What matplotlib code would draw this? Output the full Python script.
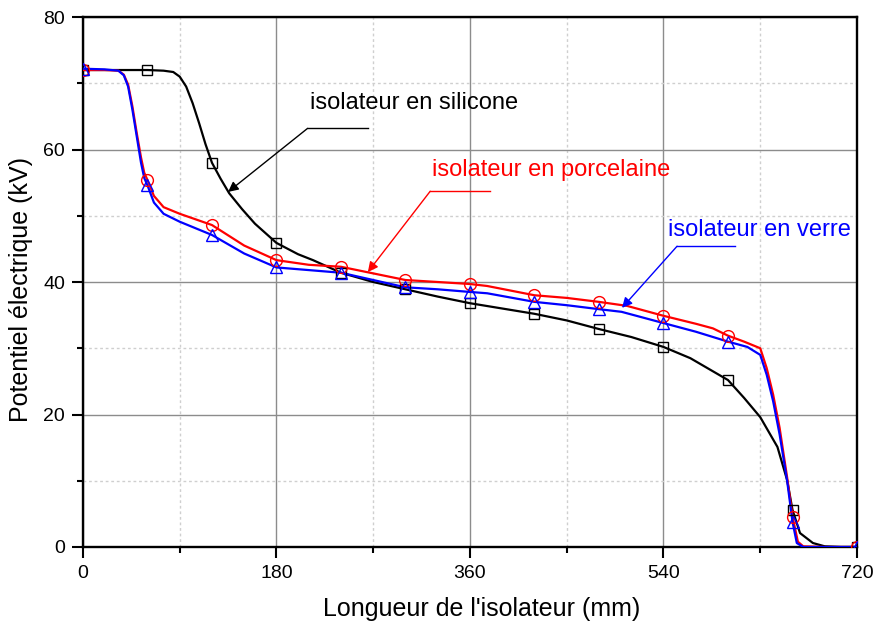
import numpy as np
import matplotlib
matplotlib.use('Agg')
import matplotlib.pyplot as plt

plt.rcParams['font.family'] = ['Liberation Sans', 'DejaVu Sans']

# valeurs aux marqueurs (tous les 60 mm)
x_mark = [0, 60, 120, 180, 240, 300, 360, 420, 480, 540, 600, 660, 720]
silicone = [72.0, 72.0, 58.0, 45.9, 41.4, 38.9, 36.8, 35.2, 32.9, 30.2, 25.2, 5.6, 0.0]
porcelaine = [72.0, 55.4, 48.6, 43.3, 42.3, 40.3, 39.7, 38.0, 37.0, 34.9, 31.9, 4.6, 0.0]
verre = [72.2, 54.6, 47.1, 42.2, 41.4, 39.2, 38.5, 37.0, 35.9, 33.8, 31.0, 3.8, 0.0]

# points intermediaires
sil_x = [20, 75, 84, 90, 96, 102, 108, 114, 128, 136, 148, 160, 200, 214, 270, 330,
         390, 450, 510, 565, 615, 630, 646, 655, 667, 679, 690, 705]
sil_y = [72.0, 71.9, 71.7, 71.0, 69.5, 67.0, 64.0, 60.8, 55.6, 53.4, 51.0, 48.8,
         44.2, 43.3, 40.0, 37.8, 36.0, 34.2, 31.7, 28.5, 22.5, 19.6, 15.1, 10.1,
         2.1, 0.6, 0.1, 0.0]
por_x = [20, 33, 38, 42, 46, 50, 54, 57, 66, 75, 90, 150, 210, 270, 330, 376, 450,
         506, 570, 586, 615, 630, 636, 642, 648, 655, 665, 670, 690]
por_y = [72.0, 71.9, 71.3, 69.8, 66.5, 62.5, 58.8, 56.5, 53.0, 51.3, 50.3, 45.5,
         42.6, 41.3, 40.0, 39.4, 37.6, 36.4, 33.7, 33.0, 31.0, 30.0, 27.0, 23.0,
         18.0, 10.5, 0.8, 0.1, 0.0]
ver_x = [20, 33, 38, 42, 46, 50, 54, 57, 66, 75, 90, 150, 210, 270, 330, 376, 450,
         501, 570, 618, 630, 636, 642, 648, 655, 664, 670, 690]
ver_y = [72.1, 71.9, 71.2, 69.5, 66.0, 62.0, 58.0, 55.7, 52.0, 50.3, 49.1, 44.3,
         41.8, 40.3, 38.9, 38.3, 36.5, 35.5, 32.5, 30.2, 29.0, 26.0, 22.0, 17.0,
         10.0, 0.6, 0.0, 0.0]


def courbe(xm, ym, xe, ye):
    xs = np.array(list(xm) + list(xe), dtype=float)
    ys = np.array(list(ym) + list(ye), dtype=float)
    o = np.argsort(xs)
    return xs[o], ys[o]


fig = plt.figure(figsize=(8.77, 6.26), dpi=100)
ax = fig.add_axes([0.0946, 0.1262, 0.8826, 0.8466])

series = [
    (silicone, sil_x, sil_y, 'black', 's', 7.5),
    (porcelaine, por_x, por_y, 'red', 'o', 8.5),
    (verre, ver_x, ver_y, 'blue', '^', 9),
]
for ym, xe, ye, c, m, ms in series:
    xs, ys = courbe(x_mark, ym, xe, ye)
    ax.plot(xs, ys, color=c, lw=1.6, zorder=3)
    ax.plot(x_mark, ym, ls='none', marker=m, ms=ms, mfc='none', mec=c, mew=1.0, zorder=4)

ax.set_xlim(0, 720)
ax.set_ylim(0, 80)
ax.set_xticks([0, 180, 360, 540, 720])
ax.set_xticks([90, 270, 450, 630], minor=True)
ax.set_yticks([0, 20, 40, 60, 80])
ax.set_yticks([10, 30, 50, 70], minor=True)
ax.grid(which='major', color='#8c8c8c', lw=1.0, ls='-', zorder=0)
ax.grid(which='minor', color='#cfcfcf', lw=1.0, ls=(0, (2, 2)), zorder=0)
ax.tick_params(which='major', direction='out', length=8, width=1.5, labelsize=14, pad=5)
ax.tick_params(which='minor', direction='out', length=4, width=1.5)
for s in ax.spines.values():
    s.set_linewidth(1.7)

ax.set_xlabel("Longueur de l'isolateur (mm)", fontsize=18)
ax.set_ylabel("Potentiel électrique (kV)", fontsize=18)
ax.xaxis.set_label_coords(0.5155, -0.095)
ax.yaxis.set_label_coords(-0.064, 0.485)

# annotations
notes = [
    ('isolateur en silicone', 'black', (211, 67.0), (209, 63.2), (265, 63.2), (135, 53.6)),
    ('isolateur en porcelaine', 'red', (325, 56.9), (323, 53.7), (379, 53.7), (265, 41.5)),
    ('isolateur en verre', 'blue', (544, 47.8), (552.6, 45.4), (606.5, 45.4), (501.4, 36.1)),
]
for txt, c, tpos, coin, fin, pointe in notes:
    ax.text(tpos[0], tpos[1], txt, color=c, fontsize=17, va='center', ha='left', zorder=6)
    ax.plot([coin[0], fin[0]], [coin[1], fin[1]], color=c, lw=1.0, zorder=5)
    ax.annotate('', xy=pointe, xytext=coin,
                arrowprops=dict(arrowstyle='-|>', color=c, lw=1.0,
                                mutation_scale=15, shrinkA=0, shrinkB=0), zorder=5)

fig.savefig('out.png', dpi=100)
